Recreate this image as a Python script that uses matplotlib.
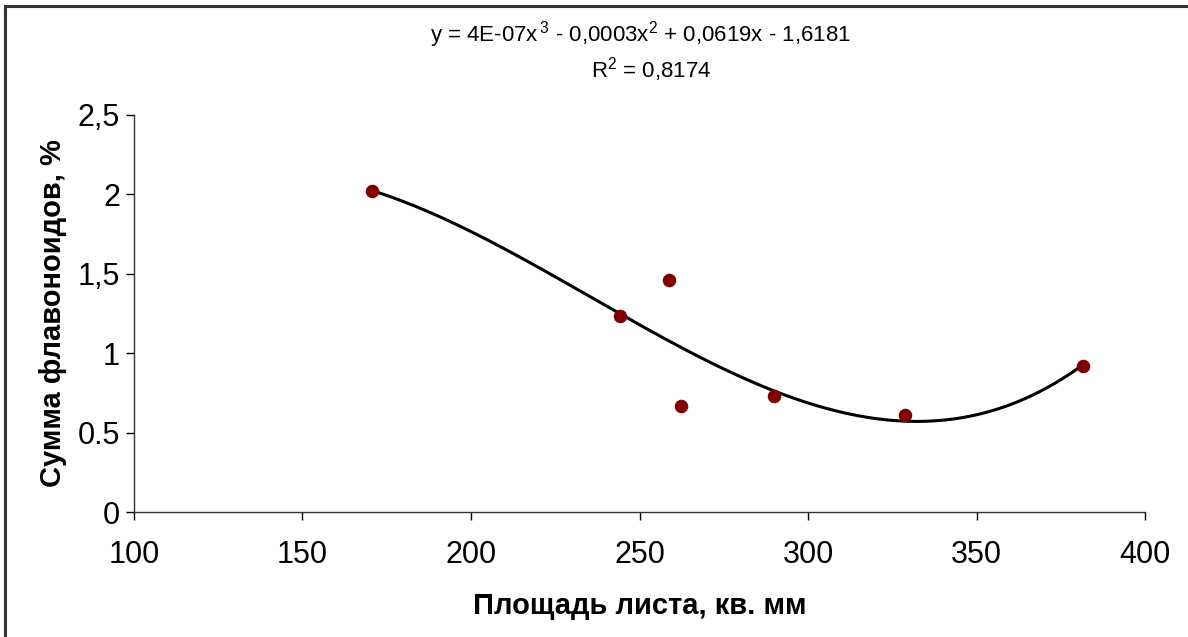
import numpy as np
import matplotlib.pyplot as plt
from matplotlib.patches import Rectangle

# leaf area, sq. mm  vs  flavonoid sum, %
area = [170.5, 244.2, 258.8, 262.2, 290.0, 328.8, 381.7]
flav = [2.02, 1.235, 1.46, 0.67, 0.73, 0.61, 0.92]

xticks = [100, 150, 200, 250, 300, 350, 400]
yticks = [0, 0.5, 1, 1.5, 2, 2.5]
ytick_labels = ["0", "0.5", "1", "1,5", "2", "2,5"]

eq_text = "y = 4E-07x$^{\\,3}$ - 0,0003x$^{2}$ + 0,0619x - 1,6181"
r2_text = "R$^{2}$ = 0,8174"

plt.rcParams['font.family'] = ['Liberation Sans', 'DejaVu Sans']
plt.rcParams['mathtext.fontset'] = 'custom'
plt.rcParams['mathtext.rm'] = 'Liberation Sans'

W, H = 1188, 637
fig = plt.figure(figsize=(W / 100, H / 100), dpi=100)
ax = fig.add_axes([134 / W, 1 - 512 / H, (1145 - 134) / W, (512 - 114.7) / H])

# cubic trendline, Excel style, over the data range
coef = np.polyfit(area, flav, 3)
xs = np.linspace(min(area), max(area), 200)
ax.plot(xs, np.polyval(coef, xs), color='black', lw=2.2, zorder=2)
ax.scatter(area, flav, s=95, color='#800000', zorder=3, linewidths=0)

ax.set_xlim(100, 400)
ax.set_ylim(0, 2.5)
ax.set_xticks(xticks)
ax.set_yticks(yticks)
ax.set_yticklabels(ytick_labels)
ax.tick_params(labelsize=22, length=6, width=1, direction='out', pad=4, colors='black')
ax.tick_params(axis='x', pad=14)
for s in ['top', 'right']:
    ax.spines[s].set_visible(False)
for s in ['left', 'bottom']:
    ax.spines[s].set_linewidth(1)
    ax.spines[s].set_color('#333333')

ax.set_xlabel("Площадь листа, кв. мм", fontsize=21, fontweight='bold', labelpad=16)
ax.set_ylabel("Сумма флавоноидов, %", fontsize=21, fontweight='bold', labelpad=8)

fig.text(640 / W, 1 - 35 / H, eq_text, ha='center', va='center', fontsize=16)
fig.text(651 / W, 1 - 70 / H, r2_text, ha='center', va='center', fontsize=16)

# frame around the chart area (right and bottom edges fall outside the image)
fig.patches.append(Rectangle((5 / W, -0.05), 1.1, 1 - 6 / H + 0.05, transform=fig.transFigure,
                             fill=False, edgecolor='#333333', lw=2.2))

fig.savefig("out.png", dpi=100)
